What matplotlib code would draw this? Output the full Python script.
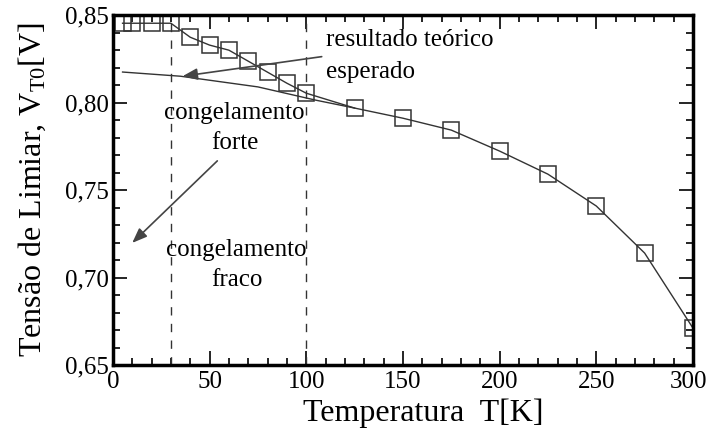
import matplotlib
matplotlib.use("Agg")
import matplotlib.pyplot as plt
import matplotlib.transforms as mtransforms
from matplotlib.ticker import MultipleLocator, FuncFormatter

# Data
T_meas = [5, 10, 20, 30, 40, 50, 60, 70, 80, 90, 100, 125, 150, 175, 200, 225, 250, 275, 300]
V_meas = [0.8454, 0.8454, 0.8454, 0.8454, 0.8374, 0.8329, 0.8300, 0.8237, 0.8174, 0.8111,
          0.8054, 0.7969, 0.7911, 0.7843, 0.7723, 0.7591, 0.7409, 0.7140, 0.6711]
T_theo = [5, 35, 75, 105, 125]
V_theo = [0.8175, 0.8151, 0.8090, 0.8014, 0.7969]
T_regions = [30, 100]
x_ticks = [0, 50, 100, 150, 200, 250, 300]
y_ticks = [0.65, 0.70, 0.75, 0.80, 0.85]

plt.rcParams['font.family'] = ['Liberation Serif', 'DejaVu Serif']
plt.rcParams['mathtext.fontset'] = 'custom'
plt.rcParams['mathtext.rm'] = 'Liberation Serif'
plt.rcParams['mathtext.it'] = 'Liberation Serif:italic'

fig = plt.figure(figsize=(7.10, 4.34), dpi=100)
ax = fig.add_axes([0.159, 0.159, 0.817, 0.806])

col = '#333333'
ax.plot(T_meas, V_meas, color=col, lw=1.0, marker='s', ms=12, mfc='none', mec=col, mew=1.1)
ax.plot(T_theo, V_theo, color=col, lw=1.0)
for t in T_regions:
    ax.axvline(t, color=col, lw=1.0, ls=(0, (6, 6)))

ax.set_xlim(0, 300)
ax.set_ylim(0.65, 0.85)
ax.set_xticks(x_ticks)
ax.set_yticks(y_ticks)
ax.xaxis.set_minor_locator(MultipleLocator(10))
ax.yaxis.set_minor_locator(MultipleLocator(0.01))
ax.xaxis.set_major_formatter(FuncFormatter(lambda v, p: f"{v:.0f}"))
ax.yaxis.set_major_formatter(FuncFormatter(lambda v, p: f"{v:.2f}".replace('.', ',')))
ax.tick_params(which='both', direction='in', top=True, right=True, labelsize=18, width=1.2, color='black')
ax.tick_params(which='major', length=10)
ax.tick_params(which='minor', length=5)
ax.tick_params(axis='x', pad=4)
ax.tick_params(axis='y', pad=3)
for s in ax.spines.values():
    s.set_linewidth(2.5)

# nudge last x tick label so it stays inside the figure
last = ax.xaxis.get_major_ticks()[-1].label1
last.set_transform(last.get_transform() + mtransforms.ScaledTranslation(-4 / 100, 0, fig.dpi_scale_trans))

ax.set_xlabel('Temperatura  T[K]', fontsize=23)
ax.xaxis.set_label_coords(0.535, -0.095)
ax.set_ylabel('Tensão de Limiar, V$_{\\mathrm{T0}}$[V]', fontsize=23, labelpad=12)

fs = 18
ax.text(110, 0.8357, 'resultado teórico', fontsize=fs, ha='left', va='center')
ax.text(110, 0.8174, 'esperado', fontsize=fs, ha='left', va='center')
ax.text(63, 0.7940, 'congelamento', fontsize=fs, ha='center', va='center')
ax.text(63, 0.7769, 'forte', fontsize=fs, ha='center', va='center')
ax.text(64, 0.7157, 'congelamento', fontsize=fs, ha='center', va='center')
ax.text(64, 0.6986, 'fraco', fontsize=fs, ha='center', va='center')

arrowprops = dict(arrowstyle='-|>,head_length=0.9,head_width=0.35', color='#444444', lw=1.2,
                  shrinkA=0, shrinkB=0)
ax.annotate('', xy=(36, 0.8151), xytext=(108, 0.8263), arrowprops=arrowprops)
ax.annotate('', xy=(10, 0.7198), xytext=(54, 0.7667), arrowprops=arrowprops)

fig.savefig('out.png', dpi=100)
